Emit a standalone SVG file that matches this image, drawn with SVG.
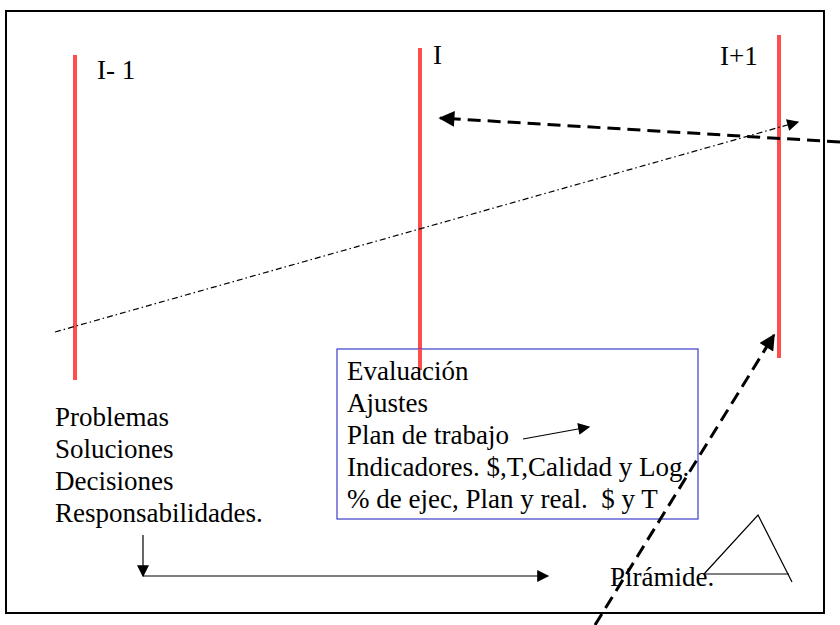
<svg xmlns="http://www.w3.org/2000/svg" width="840" height="625" viewBox="0 0 840 625">
  <style>
    .txt { font-family: "Liberation Serif", "Times New Roman", serif; font-size: 27px; fill: #000; }
    .iter { stroke: #ff4d4d; stroke-width: 4; fill: none; }
    .thin { stroke: #000; stroke-width: 1.2; fill: none; }
    .bold-dash { stroke: #000; stroke-width: 3; stroke-dasharray: 13 7; fill: none; }
    .dashdot { stroke: #000; stroke-width: 1.2; stroke-dasharray: 6 3 1.5 3; fill: none; }
  </style>
  <defs>
    <marker id="headSmall" viewBox="0 0 10 10" refX="9" refY="5" markerWidth="14" markerHeight="12" markerUnits="userSpaceOnUse" orient="auto">
      <path d="M0,0 L10,5 L0,10 z" fill="#000"/>
    </marker>
    <marker id="headMid" viewBox="0 0 10 10" refX="9" refY="5" markerWidth="20" markerHeight="16" markerUnits="userSpaceOnUse" orient="auto">
      <path d="M0,0 L10,5 L0,10 z" fill="#000"/>
    </marker>
  </defs>

  <rect x="0" y="0" width="840" height="625" fill="#fff"/>
  <!-- outer frame -->
  <rect id="frame" x="6" y="11" width="818" height="602" fill="none" stroke="#000" stroke-width="2"/>

  <!-- iteration markers -->
  <g id="iter-prev">
    <line class="iter" x1="75" y1="55" x2="75" y2="380"/>
    <text class="txt" x="97" y="79">I- 1</text>
  </g>
  <g id="iter-current">
    <line class="iter" x1="420" y1="48" x2="420" y2="370"/>
    <text class="txt" x="433" y="64">I</text>
  </g>
  <g id="iter-next">
    <line class="iter" x1="779" y1="35" x2="779" y2="358"/>
    <text class="txt" x="720" y="65">I+1</text>
  </g>

  <!-- left list -->
  <g id="left-list">
    <text class="txt" x="55" y="426">Problemas</text>
    <text class="txt" x="55" y="458">Soluciones</text>
    <text class="txt" x="55" y="490">Decisiones</text>
    <text class="txt" x="55" y="522">Responsabilidades.</text>
  </g>

  <!-- evaluation box -->
  <g id="eval-box">
    <rect x="337" y="349" width="361" height="170" fill="none" stroke="#3c3cc8" stroke-width="1.2"/>
    <line class="iter" x1="420" y1="349" x2="420" y2="370"/>
    <text class="txt" x="347" y="380">Evaluación</text>
    <text class="txt" x="347" y="412">Ajustes</text>
    <text class="txt" x="347" y="444">Plan de trabajo</text>
    <text class="txt" x="347" y="476">Indicadores. $,T,Calidad y Log.</text>
    <text class="txt" x="347" y="508" xml:space="preserve">% de ejec, Plan y real.  $ y T</text>
  </g>

  <!-- pyramid -->
  <g id="pyramid">
    <polyline class="thin" points="704,574 758,515 792,582"/>
    <line class="thin" x1="704" y1="574" x2="789" y2="574"/>
    <text class="txt" x="610" y="586">Pirámide.</text>
  </g>

  <!-- connectors -->
  <g id="connectors">
    <line class="dashdot" x1="55" y1="332" x2="798" y2="122" marker-end="url(#headSmall)"/>
    <line class="bold-dash" x1="840" y1="142" x2="440" y2="118" marker-end="url(#headMid)"/>
    <line class="bold-dash" x1="595" y1="625" x2="774" y2="335" marker-end="url(#headMid)"/>
    <line class="thin" x1="523" y1="439" x2="589" y2="427" marker-end="url(#headSmall)"/>
    <line class="thin" x1="143" y1="535" x2="143" y2="576" marker-end="url(#headSmall)"/>
    <line class="thin" x1="143" y1="576" x2="548" y2="576" marker-end="url(#headSmall)"/>
  </g>
</svg>
